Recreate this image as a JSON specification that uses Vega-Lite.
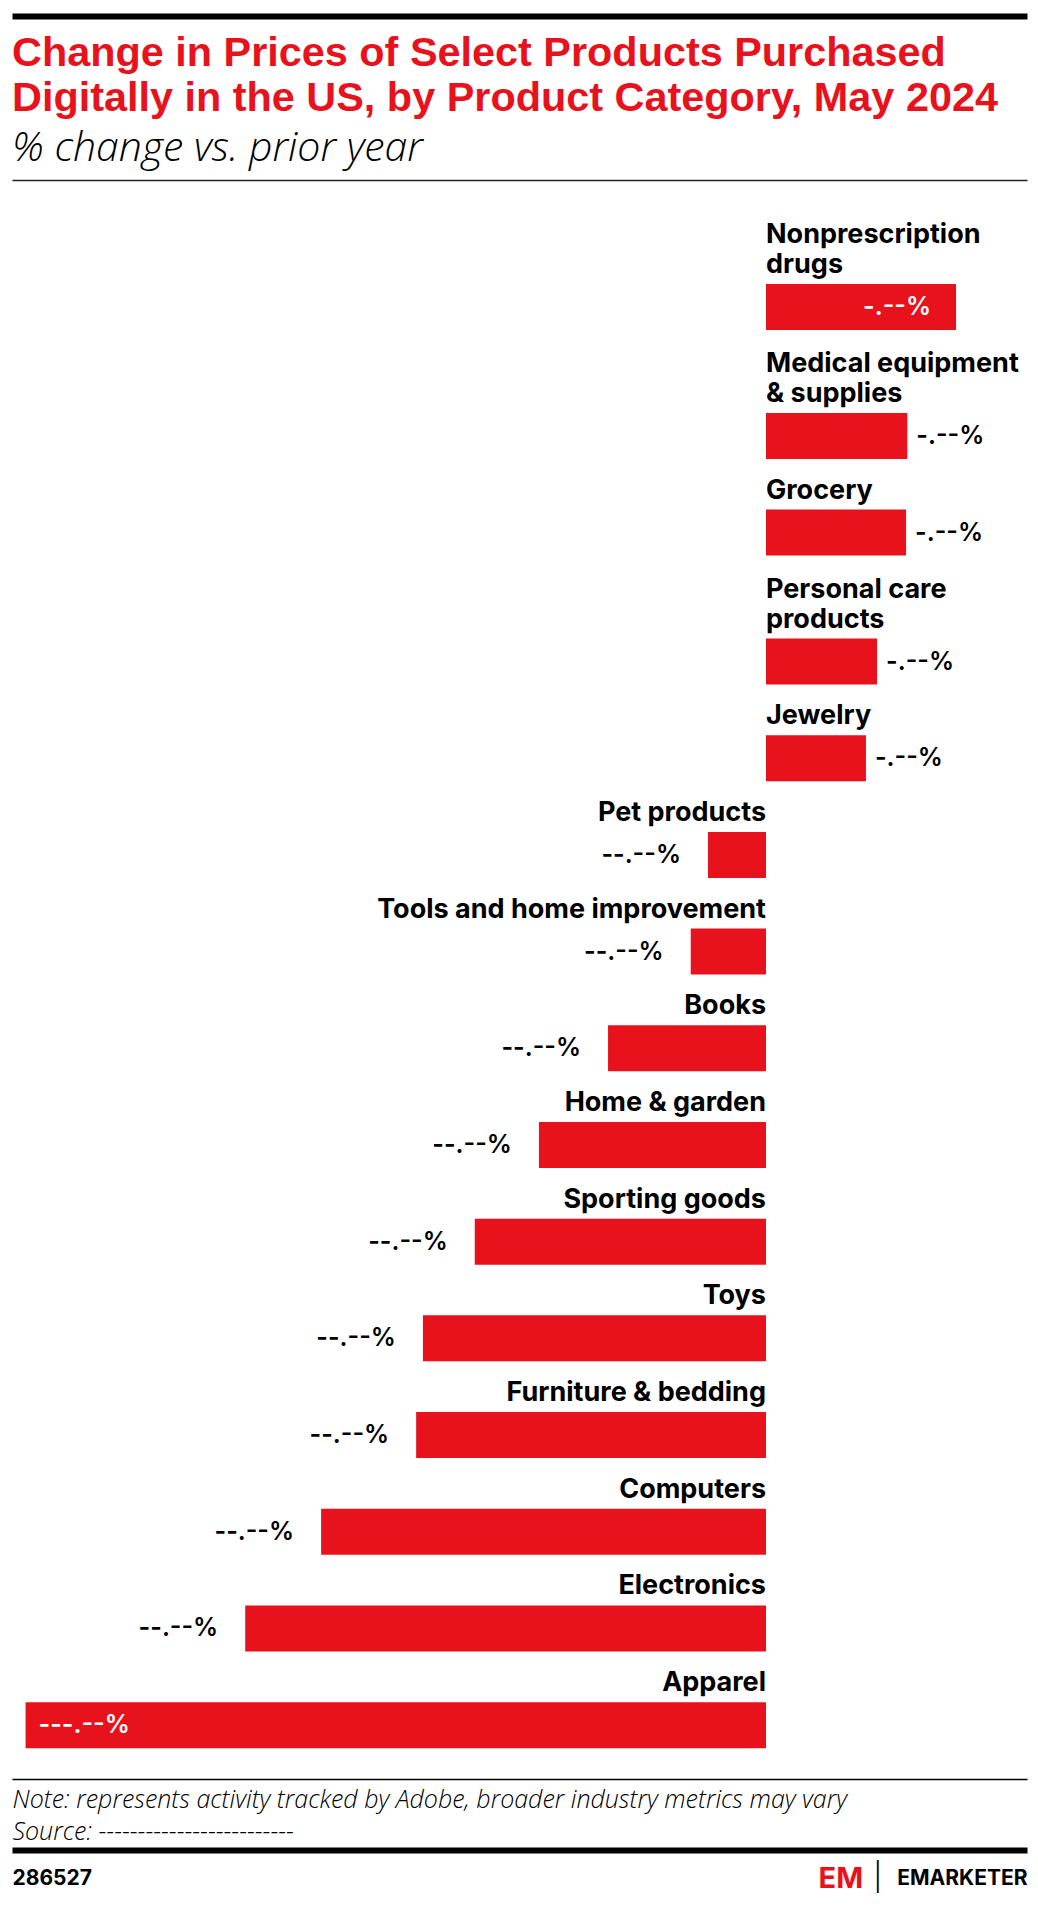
{
  "$schema": "https://vega.github.io/schema/vega-lite/v6.json",
  "padding": {"left": 12, "right": 11, "top": 0, "bottom": 0},
  "background": "white",
  "spacing": 16,
  "config": {"view": {"stroke": null}, "font": "Inter"},
  "datasets": {
    "rows": [
      {"category": "Nonprescription drugs", "label": "Nonprescription\ndrugs", "value": 3.08, "text": "-.--%"},
      {"category": "Medical equipment & supplies", "label": "Medical equipment\n& supplies", "value": 2.29, "text": "-.--%"},
      {"category": "Grocery", "label": "Grocery", "value": 2.27, "text": "-.--%"},
      {"category": "Personal care products", "label": "Personal care\nproducts", "value": 1.8, "text": "-.--%"},
      {"category": "Jewelry", "label": "Jewelry", "value": 1.62, "text": "-.--%"},
      {"category": "Pet products", "label": "Pet products", "value": -0.94, "text": "--.--%"},
      {"category": "Tools and home improvement", "label": "Tools and home improvement", "value": -1.22, "text": "--.--%"},
      {"category": "Books", "label": "Books", "value": -2.56, "text": "--.--%"},
      {"category": "Home & garden", "label": "Home & garden", "value": -3.68, "text": "--.--%"},
      {"category": "Sporting goods", "label": "Sporting goods", "value": -4.72, "text": "--.--%"},
      {"category": "Toys", "label": "Toys", "value": -5.56, "text": "--.--%"},
      {"category": "Furniture & bedding", "label": "Furniture & bedding", "value": -5.67, "text": "--.--%"},
      {"category": "Computers", "label": "Computers", "value": -7.21, "text": "--.--%"},
      {"category": "Electronics", "label": "Electronics", "value": -8.44, "text": "--.--%"},
      {"category": "Apparel", "label": "Apparel", "value": -12.0, "text": "---.--%"}
    ]
  },
  "vconcat": [
    {
      "width": 1015,
      "height": 16,
      "data": {"name": "rows"},
      "mark": {"type": "tick", "opacity": 0},
      "encoding": {
        "x": {
          "field": "value", "type": "quantitative",
          "scale": {"domain": [-12.22, 4.23], "nice": false, "zero": false},
          "axis": {"orient": "bottom", "domain": true, "domainColor": "#000000", "domainWidth": 6, "labels": false, "ticks": false, "grid": false, "title": null}
        }
      }
    },
    {
      "width": 1015,
      "height": 1599,
      "data": {"name": "rows"},
      "title": {
        "text": ["Change in Prices of Select Products Purchased", "Digitally in the US, by Product Category, May 2024"],
        "subtitle": "% change vs. prior year",
        "anchor": "start",
        "frame": "group",
        "font": "Liberation Sans",
        "fontSize": 41.4,
        "fontWeight": "bold",
        "color": "#e8121d",
        "lineHeight": 45,
        "subtitleFont": "Open Sans",
        "subtitleFontSize": 41,
        "subtitleFontStyle": "italic",
        "subtitleFontWeight": 300,
        "subtitleColor": "#000000",
        "subtitlePadding": 10,
        "offset": 11
      },
      "encoding": {
        "y": {
          "field": "category", "type": "nominal",
          "scale": {
            "domain": ["s0a", "s0b", "s0c", "Nonprescription drugs", "s1a", "s1b", "s1c", "Medical equipment & supplies", "s2a", "s2b", "Grocery", "s3a", "s3b", "s3c", "Personal care products", "s4a", "s4b", "Jewelry", "s5a", "s5b", "Pet products", "s6a", "s6b", "Tools and home improvement", "s7a", "s7b", "Books", "s8a", "s8b", "Home & garden", "s9a", "s9b", "Sporting goods", "s10a", "s10b", "Toys", "s11a", "s11b", "Furniture & bedding", "s12a", "s12b", "Computers", "s13a", "s13b", "Electronics", "s14a", "s14b", "Apparel", "s15a"],
            "paddingInner": 0, "paddingOuter": 0.305, "align": 0.72
          },
          "axis": null
        }
      },
      "layer": [
        {
          "mark": {"type": "bar", "color": "#e8121d", "height": 46},
          "encoding": {
            "x": {
              "field": "value", "type": "quantitative",
              "scale": {"domain": [-12.22, 4.23], "nice": false, "zero": false},
              "axis": {"orient": "top", "domain": true, "domainColor": "#222222", "domainWidth": 1.5, "labels": false, "ticks": false, "grid": false, "title": null}
            }
          }
        },
        {
          "transform": [{"filter": "datum.value < 0 && datum.category != 'Apparel'"}],
          "mark": {"type": "text", "align": "right", "baseline": "middle", "dx": -27, "fontSize": 25, "fontWeight": 600, "color": "#000000"},
          "encoding": {
            "x": {
              "field": "value", "type": "quantitative",
              "axis": {
                "orient": "bottom", "domain": true, "domainColor": "#000000", "domainWidth": 1.5,
                "labels": false, "ticks": false, "grid": false,
                "title": ["Note: represents activity tracked by Adobe, broader industry metrics may vary", "Source: -------------------------"],
                "titleAnchor": "start", "titleAlign": "left", "titleBaseline": "top",
                "titleFont": "Open Sans", "titleFontStyle": "italic", "titleFontWeight": 300,
                "titleFontSize": 25, "titleLineHeight": 32, "titlePadding": 8, "titleColor": "#000000"
              }
            },
            "text": {"field": "text"}
          }
        },
        {
          "transform": [{"filter": "datum.value > 0 && datum.category != 'Nonprescription drugs'"}],
          "mark": {"type": "text", "align": "left", "baseline": "middle", "dx": 9, "fontSize": 25, "fontWeight": 600, "color": "#000000"},
          "encoding": {
            "x": {
              "field": "value", "type": "quantitative",
              "axis": {
                "orient": "bottom", "offset": 71, "domain": true, "domainColor": "#000000", "domainWidth": 6,
                "ticks": false, "grid": false, "title": null,
                "values": [-12.22, 0.843, 1.73, 4.23],
                "labelExpr": "datum.value < -5 ? '286527' : datum.value < 1 ? 'EM' : datum.value < 2 ? '|' : 'EMARKETER'",
                "labelAlign": {"condition": {"test": "datum.value > 4", "value": "right"}, "value": "left"},
                "labelColor": {"condition": {"test": "datum.value > 0.5 && datum.value < 1", "value": "#e8121d"}, "value": "#000000"},
                "labelFontSize": {"condition": {"test": "datum.value > 0.5 && datum.value < 2", "value": 29}, "value": 21},
                "labelFontWeight": {"condition": {"test": "datum.value > 1 && datum.value < 2", "value": 300}, "value": "bold"},
                "labelFont": "Inter",
                "labelBaseline": "middle",
                "labelPadding": 28,
                "labelFlush": false, "labelOverlap": false, "labelBound": false
              }
            },
            "text": {"field": "text"}
          }
        },
        {
          "transform": [{"filter": "datum.category == 'Nonprescription drugs'"}],
          "mark": {"type": "text", "align": "right", "baseline": "middle", "dx": -25, "fontSize": 25, "fontWeight": 600, "color": "#ffffff"},
          "encoding": {
            "x": {"field": "value", "type": "quantitative", "axis": null},
            "text": {"field": "text"}
          }
        },
        {
          "transform": [{"filter": "datum.category == 'Apparel'"}],
          "mark": {"type": "text", "align": "left", "baseline": "middle", "dx": 13, "fontSize": 25, "fontWeight": 600, "color": "#ffffff"},
          "encoding": {
            "x": {"field": "value", "type": "quantitative", "axis": null},
            "text": {"field": "text"}
          }
        },
        {
          "transform": [{"filter": "datum.value > 0 && indexof(datum.label, '\\n') < 0"}],
          "mark": {"type": "text", "align": "left", "baseline": "alphabetic", "dy": -34, "fontSize": 27, "fontWeight": "bold", "color": "#000000"},
          "encoding": {
            "x": {"datum": 0, "type": "quantitative", "axis": null},
            "text": {"field": "label"}
          }
        },
        {
          "transform": [{"filter": "datum.value > 0 && indexof(datum.label, '\\n') >= 0"}],
          "mark": {"type": "text", "align": "left", "baseline": "alphabetic", "dy": -64, "fontSize": 27, "fontWeight": "bold", "lineBreak": "\n", "lineHeight": 30, "color": "#000000"},
          "encoding": {
            "x": {"datum": 0, "type": "quantitative", "axis": null},
            "text": {"field": "label"}
          }
        },
        {
          "transform": [{"filter": "datum.value < 0"}],
          "mark": {"type": "text", "align": "right", "baseline": "alphabetic", "dy": -34, "fontSize": 27, "fontWeight": "bold", "color": "#000000"},
          "encoding": {
            "x": {"datum": 0, "type": "quantitative", "axis": null},
            "text": {"field": "label"}
          }
        }
      ],
      "resolve": {"axis": {"x": "independent"}}
    }
  ]
}
